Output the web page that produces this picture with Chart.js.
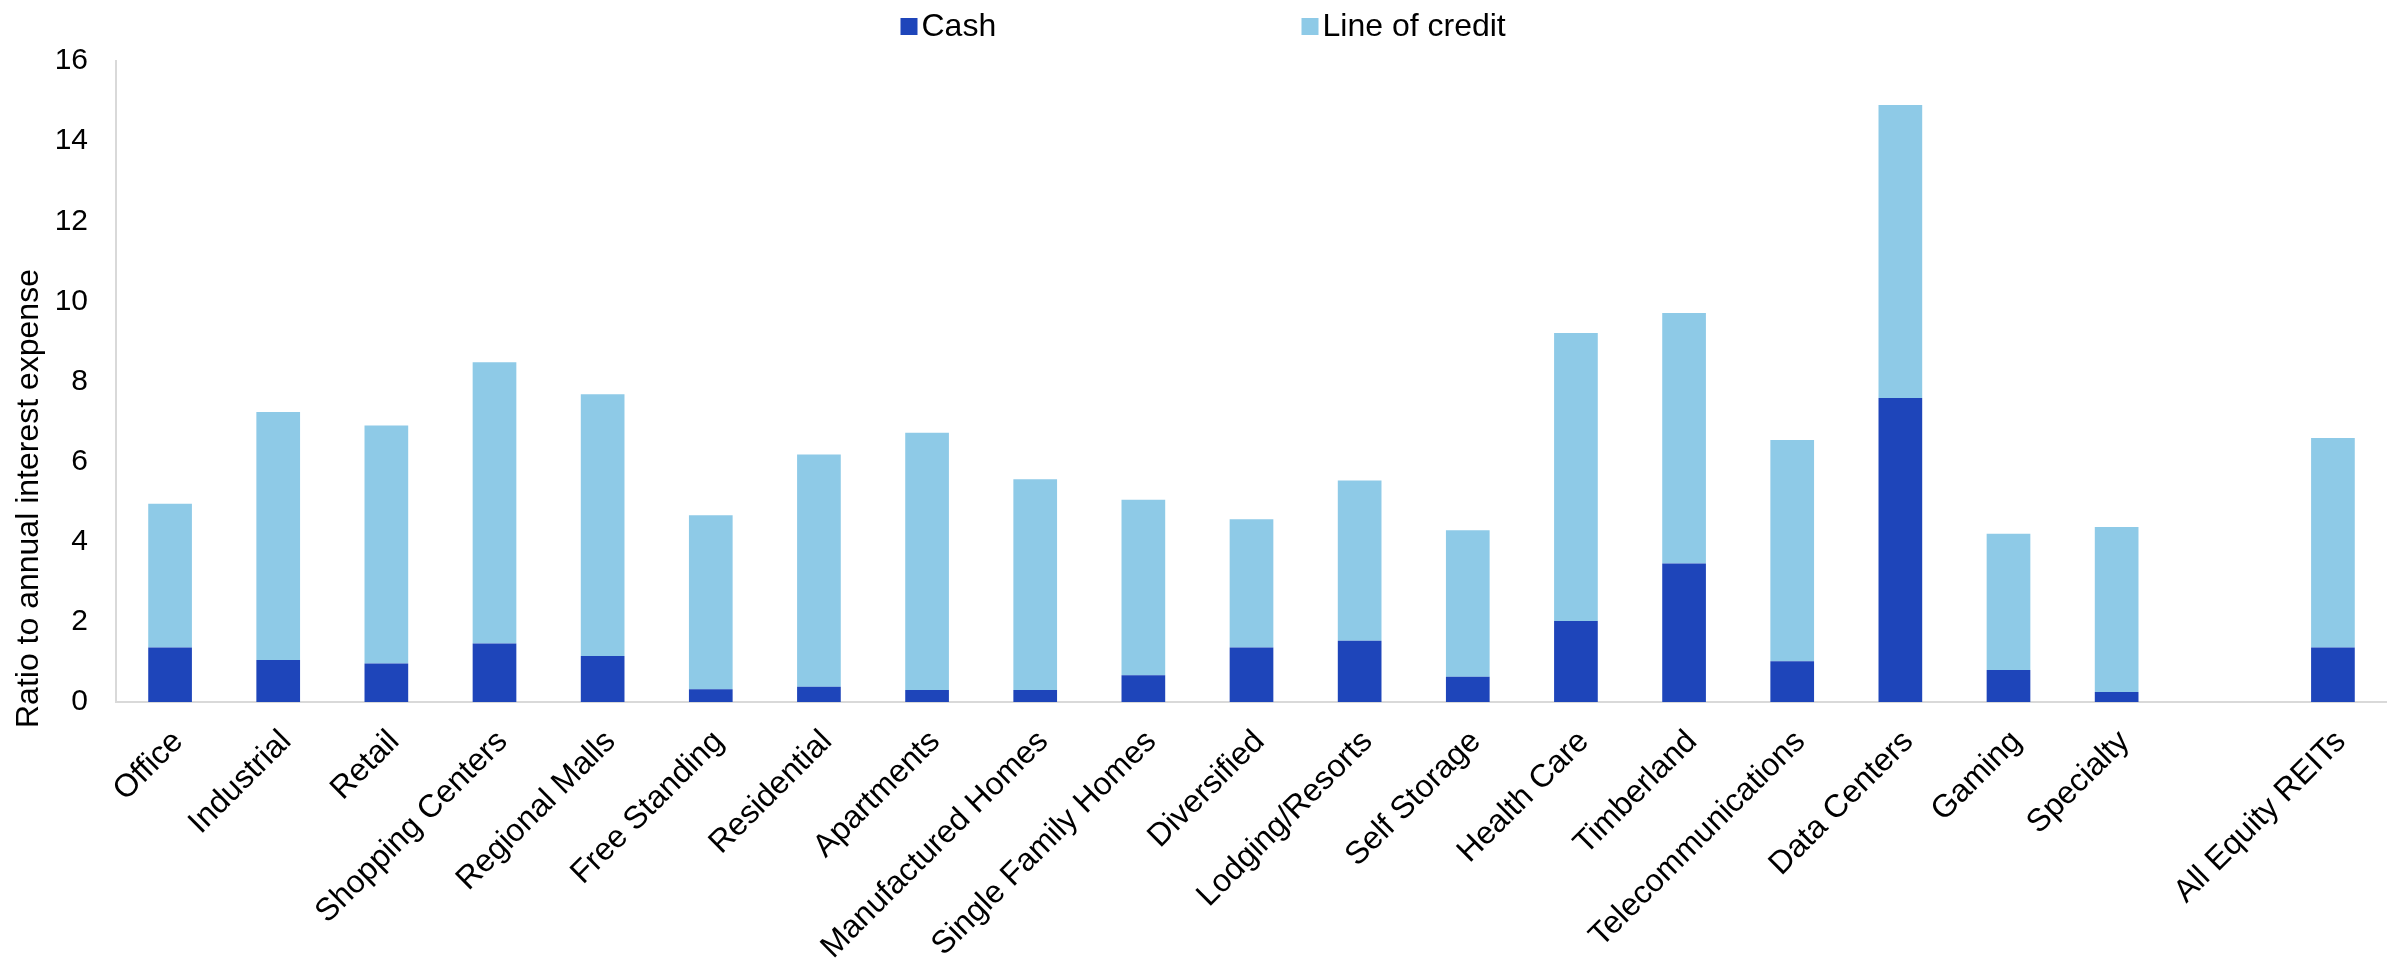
<!DOCTYPE html>
<html>
<head>
<meta charset="utf-8">
<script src="https://cdn.jsdelivr.net/npm/chart.js@4"></script>
<style>
  html, body { margin: 0; padding: 0; background: #ffffff; overflow: hidden; }
  #wrap { width: 2387px; height: 960px; position: relative; }
</style>
</head>
<body>
<div id="wrap"><canvas id="c"></canvas></div>
<script>
const categories = ['Office','Industrial','Retail','Shopping Centers','Regional Malls','Free Standing','Residential','Apartments','Manufactured Homes','Single Family Homes','Diversified','Lodging/Resorts','Self Storage','Health Care','Timberland','Telecommunications','Data Centers','Gaming','Specialty','','All Equity REITs'];
const cashValues   = [1.36,1.05,0.96,1.46,1.15,0.32,0.38,0.30,0.30,0.67,1.36,1.53,0.63,2.02,3.46,1.02,7.59,0.80,0.25,null,1.36];
const creditValues = [3.59,6.19,5.94,7.02,6.53,4.34,5.80,6.42,5.26,4.38,3.20,4.00,3.66,7.19,6.25,5.52,7.31,3.40,4.12,null,5.23];
const seriesNames  = ['Cash','Line of credit'];
const seriesColors = ['#1E45BA','#8ECAE7'];
const yMin = 0, yMax = 16, yStep = 2;
const yTitle = 'Ratio to annual interest expense';

const FONT = '"Liberation Sans", Arial, Helvetica, sans-serif';

// Legend drawn at the top, items spread apart as in the original
const topLegend = {
  id: 'topLegend',
  afterDraw(chart) {
    const ctx = chart.ctx;
    const cx = chart.width / 2;
    const offsets = [-293, 108];
    ctx.save();
    ctx.font = '32px ' + FONT;
    ctx.textBaseline = 'middle';
    ctx.textAlign = 'left';
    chart.data.datasets.forEach((ds, i) => {
      const x = cx + offsets[i];
      const y = 26.5;
      ctx.fillStyle = ds.backgroundColor;
      ctx.fillRect(x, y - 8.5, 17, 17);
      ctx.fillStyle = '#000000';
      ctx.fillText(ds.label, x + 21, y + 1);
    });
    ctx.restore();
  }
};

// Y axis title, anchored near the bottom of the axis as in the original
const yAxisTitle = {
  id: 'yAxisTitle',
  afterDraw(chart) {
    const ctx = chart.ctx;
    ctx.save();
    ctx.font = '32px ' + FONT;
    ctx.fillStyle = '#000000';
    ctx.textAlign = 'left';
    ctx.textBaseline = 'middle';
    ctx.translate(29, chart.chartArea.bottom + 26);
    ctx.rotate(-Math.PI / 2);
    ctx.fillText(yTitle, 0, 0);
    ctx.restore();
  }
};

new Chart(document.getElementById('c'), {
  type: 'bar',
  data: {
    labels: categories,
    datasets: [
      { label: seriesNames[0], data: cashValues, backgroundColor: seriesColors[0], borderWidth: 0, barPercentage: 0.404, categoryPercentage: 1 },
      { label: seriesNames[1], data: creditValues, backgroundColor: seriesColors[1], borderWidth: 0, barPercentage: 0.404, categoryPercentage: 1 }
    ]
  },
  options: {
    responsive: true,
    maintainAspectRatio: false,
    animation: false,
    devicePixelRatio: 1,
    layout: { padding: { top: 61, left: 0, right: -14, bottom: 0 } },
    plugins: {
      legend: { display: false },
      tooltip: { enabled: false }
    },
    scales: {
      x: {
        stacked: true,
        grid: { display: false, drawTicks: false },
        border: { display: true, color: '#D9D9D9', width: 2 },
        ticks: {
          color: '#000000',
          font: { family: FONT, size: 32 },
          minRotation: 45, maxRotation: 45,
          autoSkip: false,
          padding: 21,
          labelOffset: 8
        },
        afterFit(scale) { scale.height = 258; }
      },
      y: {
        stacked: true,
        min: yMin, max: yMax,
        grid: { display: false, drawTicks: false },
        border: { display: true, color: '#D9D9D9', width: 2 },
        ticks: {
          stepSize: yStep,
          color: '#000000',
          font: { family: FONT, size: 30 },
          padding: 28
        },
        title: { display: false, text: yTitle },
        afterFit(scale) { scale.width = 116; }
      }
    }
  },
  plugins: [topLegend, yAxisTitle]
});
</script>
</body>
</html>
